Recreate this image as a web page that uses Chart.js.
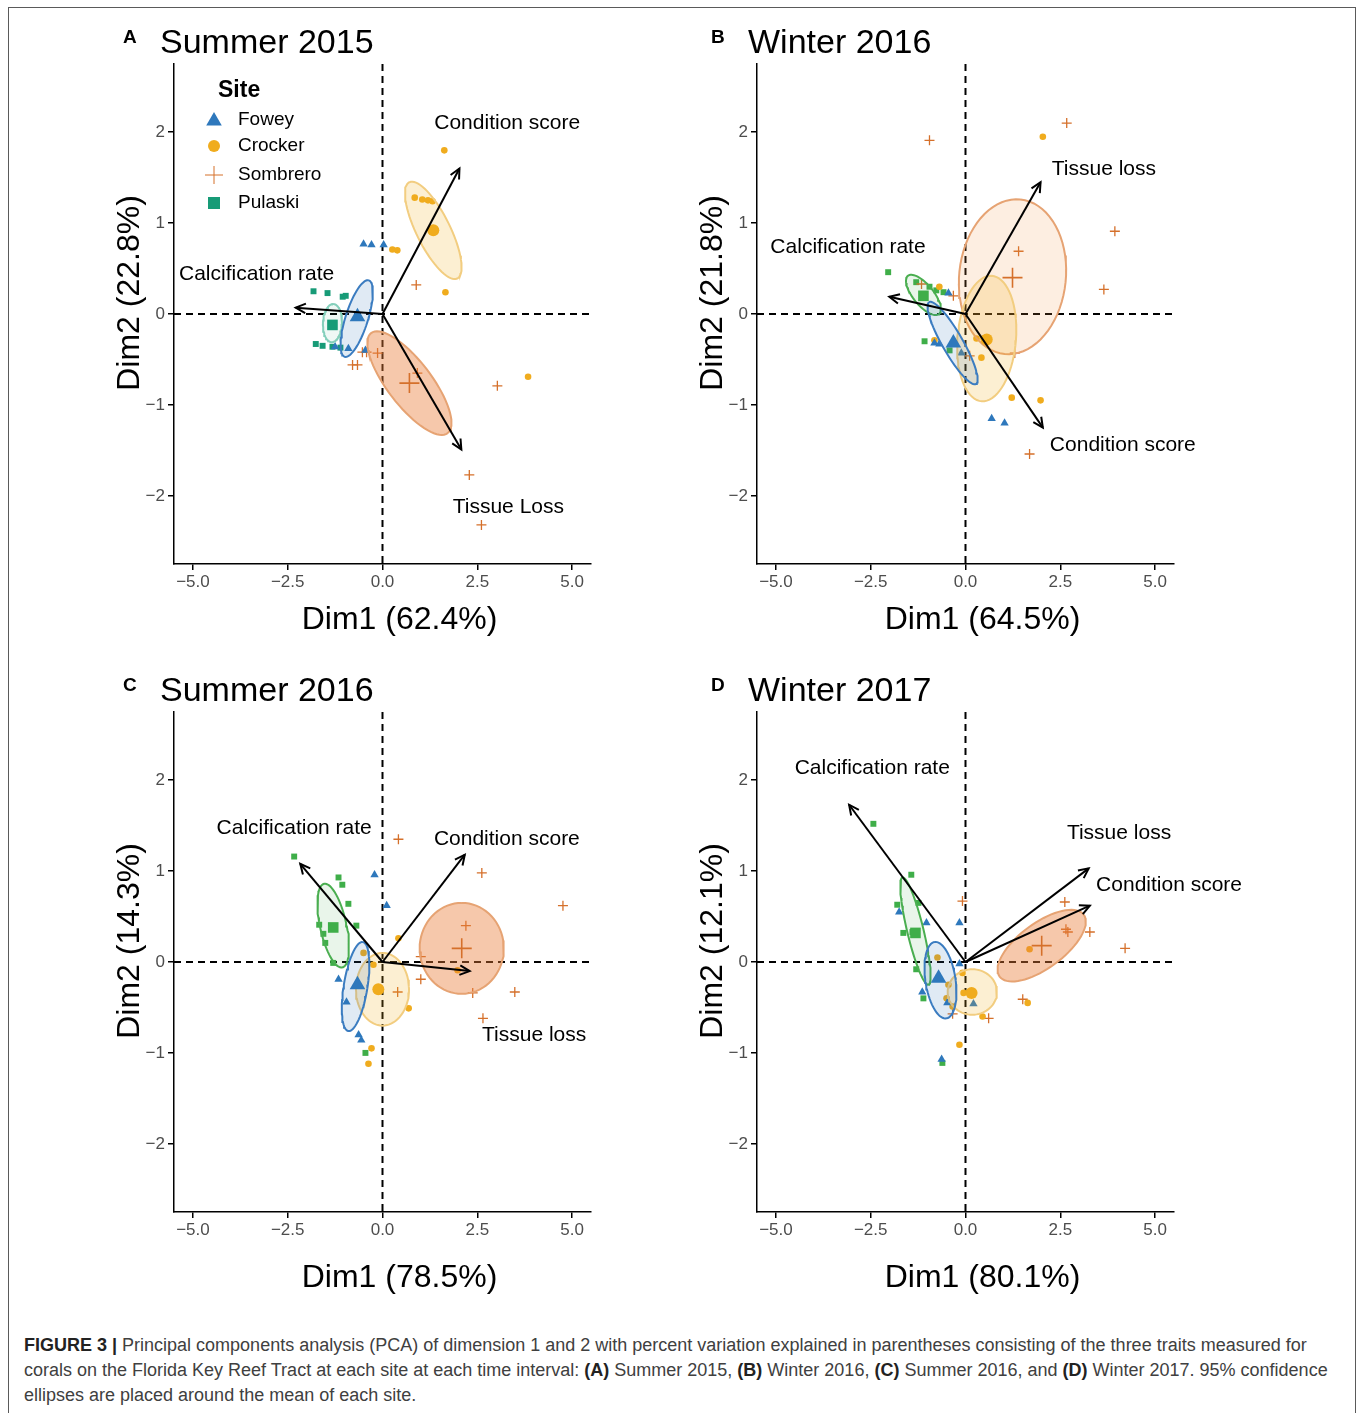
<!DOCTYPE html>
<html>
<head>
<meta charset="utf-8">
<title>PCA biplots</title>
<script src="https://cdn.jsdelivr.net/npm/chart.js@4.4.1/dist/chart.umd.min.js"></script>
<style>
	body { margin: 0; background: #fff; width: 1360px; height: 1413px; position: relative; overflow: hidden; font-family: "Liberation Sans", Arial, Helvetica, sans-serif; }
	#frame { position: absolute; left: 8px; top: 7px; width: 1348px; height: 1430px; border: 1.5px solid #5a5a5a; box-sizing: border-box; }
	canvas { position: absolute; }
	#caption { position: absolute; left: 24px; top: 1333px; font-size: 18px; line-height: 25px; color: #404040; white-space: nowrap; }
	#caption b { color: #222; }
</style>
</head>
<body>
<div id="frame"></div>
<canvas id="panelA" width="583" height="648" style="left:89px;top:0px"></canvas>
<canvas id="panelB" width="583" height="648" style="left:672px;top:0px"></canvas>
<canvas id="panelC" width="583" height="648" style="left:89px;top:648px"></canvas>
<canvas id="panelD" width="583" height="648" style="left:672px;top:648px"></canvas>
<div id="caption"><b>FIGURE 3 |</b> Principal components analysis (PCA) of dimension 1 and 2 with percent variation explained in parentheses consisting of the three traits measured for<br>corals on the Florida Key Reef Tract at each site at each time interval: <b>(A)</b> Summer 2015, <b>(B)</b> Winter 2016, <b>(C)</b> Summer 2016, and <b>(D)</b> Winter 2017. 95% confidence<br>ellipses are placed around the mean of each site.</div>

<script>
const xTicks = [-5, -2.5, 0, 2.5, 5];
const yTicks = [-2, -1, 0, 1, 2];
const xLimits = [-5.5, 5.5];
const yLimits = [-2.75, 2.75];

const siteNames = ['Fowey', 'Crocker', 'Sombrero', 'Pulaski'];
const panelTitles = ['Summer 2015', 'Winter 2016', 'Summer 2016', 'Winter 2017'];
const dim1Pct = ['62.4', '64.5', '78.5', '80.1'];
const dim2Pct = ['22.8', '21.8', '14.3', '12.1'];

// A - Summer 2015
const foweyS15 = [[-0.50, 0.77], [-0.29, 0.76], [0.03, 0.76], [-1.25, -0.36], [-0.90, -0.38], [-0.45, -0.40]];
const crockerS15 = [[1.63, 1.80], [0.85, 1.28], [1.05, 1.26], [1.20, 1.25], [1.32, 1.24], [0.26, 0.71], [0.39, 0.70], [1.66, 0.24], [3.84, -0.69]];
const sombreroS15 = [[0.89, 0.32], [-0.53, -0.42], [-0.42, -0.42], [-0.13, -0.43], [-0.79, -0.56], [-0.66, -0.56], [0.92, -0.65], [3.03, -0.79], [2.29, -1.77], [2.61, -2.32]];
const pulaskiS15 = [[-1.82, 0.25], [-1.45, 0.23], [-1.05, 0.19], [-0.97, 0.20], [-1.76, -0.33], [-1.58, -0.35], [-1.32, -0.36], [-1.11, -0.37]];
const meansS15 = [[-0.66, -0.03], [1.34, 0.92], [0.71, -0.76], [-1.32, -0.12]];
// ellipse: centre x, centre y, first half-axis (dx, dy), second half-axis (dx, dy)
const ellipsesS15 = [[-0.68, -0.05, 0.32, 0.42, 0.28, -0.04], [1.34, 0.92, -0.63, 0.53, 0.40, 0.08], [0.71, -0.76, 1.01, -0.55, 0.46, 0.15], [-1.32, -0.10, 0.03, 0.21, 0.25, -0.01]];
const traitsS15 = ['Condition score', 'Calcification rate', 'Tissue Loss'];
const loadingsS15 = [[2.03, 1.60], [-2.29, 0.07], [2.08, -1.49]];
const labelAtS15 = [[3.29, 2.10], [-3.32, 0.44], [3.32, -2.12]];

// B - Winter 2016
const foweyW16 = [[-0.45, 0.23], [-0.82, -0.32], [-0.69, -0.33], [-0.11, -0.43], [0.69, -1.15], [1.03, -1.20]];
const crockerW16 = [[2.04, 1.95], [-0.69, 0.30], [-0.82, -0.29], [0.29, -0.27], [0.48, -0.27], [0.42, -0.48], [1.22, -0.92], [1.98, -0.95]];
const sombreroW16 = [[-0.95, 1.91], [2.67, 2.10], [3.94, 0.91], [1.40, 0.69], [3.65, 0.27], [-1.16, 0.33], [-0.32, 0.20], [0.11, -0.46], [1.30, -0.43], [1.69, -1.54]];
const pulaskiW16 = [[-2.04, 0.46], [-1.30, 0.35], [-0.95, 0.30], [-0.77, 0.26], [-0.58, 0.24], [-1.08, -0.30], [-0.42, -0.40]];
const meansW16 = [[-0.32, -0.32], [0.56, -0.28], [1.24, 0.40], [-1.11, 0.20]];
const ellipsesW16 = [[-0.34, -0.32, 0.62, -0.45, 0.23, 0.06], [0.56, -0.27, 0.13, 0.69, 0.77, -0.02], [1.24, 0.41, 0.21, 0.85, 1.40, -0.06], [-1.11, 0.21, 0.41, -0.21, 0.21, 0.07]];
const traitsW16 = ['Tissue loss', 'Calcification rate', 'Condition score'];
const loadingsW16 = [[1.98, 1.45], [-2.01, 0.19], [2.04, -1.25]];
const labelAtW16 = [[3.65, 1.59], [-3.10, 0.73], [4.15, -1.44]];

// C - Summer 2016
const foweyS16 = [[-0.21, 0.96], [0.11, 0.62], [-1.16, -0.19], [-0.95, -0.44], [-0.63, -0.80], [-0.56, -0.86]];
const crockerS16 = [[0.42, 0.26], [-0.50, 0.10], [-0.24, -0.03], [0.69, -0.51], [-0.29, -0.95], [-0.37, -1.12], [1.98, -0.09]];
const sombreroS16 = [[0.42, 1.35], [2.62, 0.98], [4.76, 0.62], [2.20, 0.40], [1.01, 0.06], [1.01, -0.19], [2.38, -0.34], [3.49, -0.33], [2.65, -0.62], [0.40, -0.33]];
const pulaskiS16 = [[-2.33, 1.16], [-1.16, 0.93], [-1.06, 0.85], [-0.90, 0.64], [-0.69, 0.40], [-1.67, 0.41], [-1.56, 0.31], [-1.51, 0.21], [-1.30, -0.01], [-0.45, -1.00]];
const meansS16 = [[-0.66, -0.25], [-0.11, -0.30], [2.09, 0.15], [-1.30, 0.38]];
const ellipsesS16 = [[-0.71, -0.27, 0.19, 0.49, 0.31, -0.02], [0.00, -0.30, 0.00, 0.40, 0.70, 0.00], [2.09, 0.15, 0.00, 0.50, 1.11, 0.00], [-1.30, 0.40, 0.24, -0.46, 0.34, 0.03]];
const traitsS16 = ['Calcification rate', 'Condition score', 'Tissue loss'];
const loadingsS16 = [[-2.17, 1.08], [2.17, 1.18], [2.30, -0.10]];
const labelAtS16 = [[-2.33, 1.47], [3.28, 1.35], [4.00, -0.81]];

// D - Winter 2017
const foweyW17 = [[-1.75, 0.55], [-1.03, 0.43], [-0.16, 0.43], [-0.16, -0.02], [-1.14, -0.33], [-0.48, -0.45], [0.21, -0.46], [-0.63, -1.07]];
const crockerW17 = [[-0.74, 0.05], [-0.08, -0.12], [-0.05, -0.34], [-0.45, -0.25], [-0.50, -0.40], [-0.34, -0.49], [0.45, -0.60], [1.64, -0.45], [-0.16, -0.91], [1.69, 0.14]];
const sombreroW17 = [[-0.08, 0.67], [2.62, 0.66], [2.65, 0.36], [2.70, 0.33], [3.28, 0.33], [4.21, 0.15], [1.51, -0.41], [0.61, -0.62], [-0.34, -0.57]];
const pulaskiW17 = [[-2.43, 1.52], [-1.43, 0.96], [-1.80, 0.63], [-1.24, 0.65], [-1.40, 0.33], [-1.64, 0.32], [-1.30, -0.08], [-1.11, -0.40], [-0.61, -1.11]];
const meansW17 = [[-0.71, -0.18], [0.16, -0.34], [2.01, 0.18], [-1.32, 0.32]];
const ellipsesW17 = [[-0.66, -0.20, -0.16, 0.42, 0.39, 0.03], [0.18, -0.33, 0.00, 0.25, 0.65, 0.00], [2.01, 0.18, 1.11, 0.34, 0.35, -0.20], [-1.32, 0.34, 0.34, -0.59, 0.21, 0.02]];
const traitsW17 = ['Calcification rate', 'Tissue loss', 'Condition score'];
const loadingsW17 = [[-3.07, 1.73], [3.25, 1.03], [3.28, 0.62]];
const labelAtW17 = [[-2.46, 2.13], [4.05, 1.42], [5.37, 0.84]];

const FONT = '"Liberation Sans", Arial, Helvetica, sans-serif';
Chart.defaults.font.family = FONT;

const pointStyles = ['triangle', 'circle', 'cross', 'rect'];
const pointSizes = [4.8, 3.3, 5, 4.2];
const meanSizes = [9, 6, 10, 7.5];

function siteColors(panel) {
	let pulaski = panel == 0 ? '#179b77' : '#3fae49';
	return ['#2e78bc', '#f0ac1e', '#d5702b', pulaski];
}

function ellipseStyles(panel) {
	let sombreroFill = panel == 1 ? 'rgba(240,150,70,0.16)' : 'rgba(234,125,55,0.42)';
	let pulaskiLine = panel == 0 ? '#84cfbb' : '#4aae50';
	let pulaskiFill = panel == 0 ? 'rgba(26,158,119,0.07)' : 'rgba(74,174,80,0.12)';
	return [
		{line: '#3b7cc0', fill: 'rgba(46,117,182,0.15)'},
		{line: '#f2cd80', fill: 'rgba(240,173,30,0.2)'},
		{line: '#e6a373', fill: sombreroFill},
		{line: pulaskiLine, fill: pulaskiFill}
	];
}

function toXY(list) {
	return list.map(p => ({x: p[0], y: p[1]}));
}

function ellipsePath(e) {
	let pts = [];
	for (let i = 0; i <= 72; i++) {
		let t = i / 72 * 2 * Math.PI;
		pts.push({
			x: e[0] + e[2] * Math.cos(t) + e[4] * Math.sin(t),
			y: e[1] + e[3] * Math.cos(t) + e[5] * Math.sin(t)
		});
	}
	return pts;
}

function minusSign(v, digits) {
	return v.toFixed(digits).replace('-', '\u2212');
}

const zeroLines = {
	id: 'zeroLines',
	beforeDatasetsDraw(chart) {
		let ctx = chart.ctx;
		let area = chart.chartArea;
		let x0 = chart.scales.x.getPixelForValue(0);
		let y0 = chart.scales.y.getPixelForValue(0);
		ctx.save();
		ctx.strokeStyle = '#000';
		ctx.lineWidth = 2;
		ctx.setLineDash([7, 5]);
		ctx.beginPath();
		ctx.moveTo(area.left, y0);
		ctx.lineTo(area.right, y0);
		ctx.moveTo(x0, area.top);
		ctx.lineTo(x0, area.bottom);
		ctx.stroke();
		ctx.restore();
	}
};

const biplotText = {
	id: 'biplotText',
	afterDraw(chart, args, opts) {
		let ctx = chart.ctx;
		let area = chart.chartArea;
		let xs = chart.scales.x;
		let ys = chart.scales.y;
		ctx.save();
		ctx.fillStyle = '#000';

		// arrow heads
		ctx.strokeStyle = '#000';
		ctx.lineWidth = 2;
		let ox = xs.getPixelForValue(0);
		let oy = ys.getPixelForValue(0);
		opts.loadings.forEach(l => {
			let hx = xs.getPixelForValue(l[0]);
			let hy = ys.getPixelForValue(l[1]);
			let ang = Math.atan2(hy - oy, hx - ox);
			ctx.beginPath();
			ctx.moveTo(hx - 11 * Math.cos(ang - 0.45), hy - 11 * Math.sin(ang - 0.45));
			ctx.lineTo(hx, hy);
			ctx.lineTo(hx - 11 * Math.cos(ang + 0.45), hy - 11 * Math.sin(ang + 0.45));
			ctx.stroke();
		});

		// trait labels
		ctx.font = '21px ' + FONT;
		ctx.textAlign = 'center';
		ctx.textBaseline = 'middle';
		opts.traits.forEach((t, i) => {
			ctx.fillText(t, xs.getPixelForValue(opts.labelAt[i][0]), ys.getPixelForValue(opts.labelAt[i][1]));
		});

		// panel letter and title
		ctx.textAlign = 'left';
		ctx.textBaseline = 'alphabetic';
		ctx.font = 'bold 19px ' + FONT;
		ctx.fillText(opts.letter, area.left + opts.letterDx, area.top - 21);
		ctx.font = '34px ' + FONT;
		ctx.fillText(opts.title, area.left + opts.titleDx, area.top - 11);

		// axis titles
		ctx.textAlign = 'center';
		ctx.textBaseline = 'middle';
		ctx.font = '32px ' + FONT;
		ctx.fillText(opts.xTitle, (area.left + area.right) / 2 + 17, area.bottom + opts.xTitleGap);
		ctx.translate(area.left - 44, (area.top + area.bottom) / 2 - 21);
		ctx.rotate(-Math.PI / 2);
		ctx.fillText(opts.yTitle, 0, 0);
		ctx.restore();

		if (opts.legend) {
			drawLegend(chart, opts.colors);
		}
	}
};

function drawLegend(chart, colors) {
	let ctx = chart.ctx;
	let area = chart.chartArea;
	let rows = [56, 82, 111, 139];
	let sizes = [9, 6, 9, 8.5];
	ctx.save();
	ctx.fillStyle = '#000';
	ctx.font = 'bold 23px ' + FONT;
	ctx.textBaseline = 'alphabetic';
	ctx.fillText('Site', area.left + 44, area.top + 33);
	ctx.font = '19px ' + FONT;
	ctx.textBaseline = 'middle';
	siteNames.forEach((name, i) => {
		let y = area.top + rows[i];
		ctx.fillStyle = colors[i];
		ctx.strokeStyle = colors[i];
		Chart.helpers.drawPoint(ctx, {
			pointStyle: pointStyles[i],
			radius: sizes[i],
			rotation: 0,
			borderWidth: pointStyles[i] == 'cross' ? 1.3 : 0
		}, area.left + 40, y + (i == 0 ? 1 : 0));
		ctx.fillStyle = '#000';
		ctx.fillText(name, area.left + 64, y);
	});
	ctx.restore();
}

function createPanel(canvasId, panel, sites, means, ellipses, traits, loadings, labelAt, letter, xTitleGap) {
	let colors = siteColors(panel);
	let eStyles = ellipseStyles(panel);
	let datasets = [];

	loadings.forEach(l => {
		datasets.push({
			type: 'line',
			data: [{x: 0, y: 0}, {x: l[0], y: l[1]}],
			borderColor: '#000',
			borderWidth: 2,
			pointRadius: 0,
			fill: false,
			order: 0
		});
	});

	means.forEach((m, i) => {
		datasets.push({
			data: [{x: m[0], y: m[1]}],
			pointStyle: pointStyles[i],
			pointRadius: meanSizes[i],
			backgroundColor: colors[i],
			borderColor: colors[i],
			borderWidth: pointStyles[i] == 'cross' ? 1.6 : 0,
			order: 1
		});
	});

	ellipses.forEach((e, i) => {
		datasets.push({
			type: 'line',
			data: ellipsePath(e),
			borderColor: eStyles[i].line,
			backgroundColor: eStyles[i].fill,
			borderWidth: 2,
			pointRadius: 0,
			tension: 0,
			fill: 'shape',
			order: 2
		});
	});

	sites.forEach((s, i) => {
		datasets.push({
			data: toXY(s),
			pointStyle: pointStyles[i],
			pointRadius: pointSizes[i],
			backgroundColor: colors[i],
			borderColor: colors[i],
			borderWidth: pointStyles[i] == 'cross' ? 1.3 : 0,
			order: 3
		});
	});

	let xScaleConfig = {
		type: 'linear',
		min: xLimits[0],
		max: xLimits[1],
		afterBuildTicks: scale => { scale.ticks = xTicks.map(v => ({value: v})); },
		afterFit: scale => { scale.height = 84; },
		ticks: {
			color: '#4d4d4d',
			font: {size: 17},
			padding: 2,
			maxRotation: 0,
			callback: v => minusSign(v, 1)
		},
		grid: {drawOnChartArea: false, drawTicks: true, tickLength: 6, color: '#000', lineWidth: 1.5},
		border: {display: true, color: '#000', width: 1.5}
	};

	let yScaleConfig = {
		type: 'linear',
		min: yLimits[0],
		max: yLimits[1],
		afterBuildTicks: scale => { scale.ticks = yTicks.map(v => ({value: v})); },
		afterFit: scale => { scale.width = 85; },
		ticks: {
			color: '#4d4d4d',
			font: {size: 17},
			padding: 3,
			callback: v => minusSign(v, 0)
		},
		grid: {drawOnChartArea: false, drawTicks: true, tickLength: 6, color: '#000', lineWidth: 1.5},
		border: {display: true, color: '#000', width: 1.5}
	};

	let config = {
		type: 'scatter',
		data: {datasets: datasets},
		options: {
			responsive: false,
			animation: false,
			events: [],
			layout: {padding: {left: 0, top: 64, right: 81, bottom: 0}},
			scales: {
				x: xScaleConfig,
				y: yScaleConfig
			},
			plugins: {
				legend: {display: false},
				tooltip: {enabled: false},
				biplotText: {
					letter: letter,
					letterDx: panel % 2 == 0 ? -51 : -46,
					titleDx: panel % 2 == 0 ? -14 : -9,
					title: panelTitles[panel],
					xTitle: 'Dim1 (' + dim1Pct[panel] + '%)',
					yTitle: 'Dim2 (' + dim2Pct[panel] + '%)',
					xTitleGap: xTitleGap,
					traits: traits,
					loadings: loadings,
					labelAt: labelAt,
					legend: panel == 0,
					colors: colors
				}
			}
		},
		plugins: [zeroLines, biplotText]
	};

	return new Chart(document.getElementById(canvasId).getContext('2d'), config);
}

document.addEventListener('DOMContentLoaded', () => {
	createPanel('panelA', 0, [foweyS15, crockerS15, sombreroS15, pulaskiS15], meansS15, ellipsesS15, traitsS15, loadingsS15, labelAtS15, 'A', 56);
	createPanel('panelB', 1, [foweyW16, crockerW16, sombreroW16, pulaskiW16], meansW16, ellipsesW16, traitsW16, loadingsW16, labelAtW16, 'B', 56);
	createPanel('panelC', 2, [foweyS16, crockerS16, sombreroS16, pulaskiS16], meansS16, ellipsesS16, traitsS16, loadingsS16, labelAtS16, 'C', 66);
	createPanel('panelD', 3, [foweyW17, crockerW17, sombreroW17, pulaskiW17], meansW17, ellipsesW17, traitsW17, loadingsW17, labelAtW17, 'D', 66);
});
</script>
</body>
</html>
